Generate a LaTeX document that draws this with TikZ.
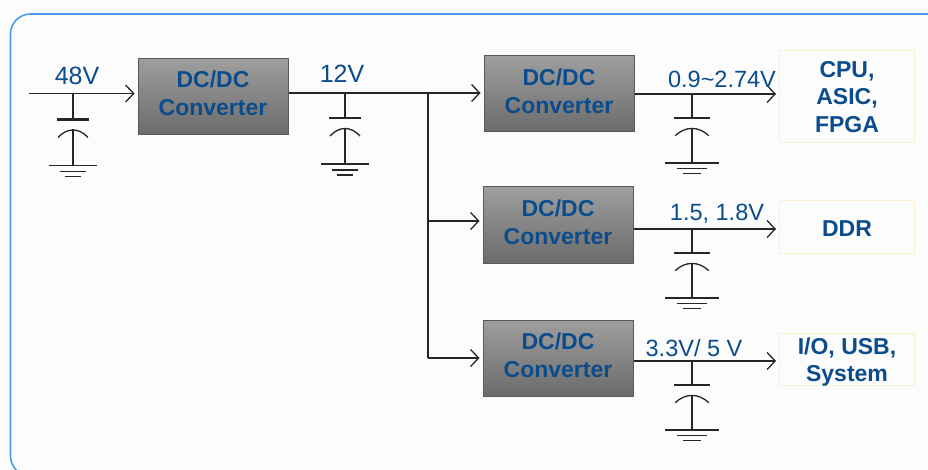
\documentclass[tikz,border=0pt]{standalone}
\usepackage{fontspec}
\setmainfont{Liberation Sans}
\usetikzlibrary{arrows.meta}
\definecolor{txtblue}{HTML}{0B4C8C}
\definecolor{framblue}{HTML}{4A9BF0}
\definecolor{loadline}{HTML}{FBF0C8}
% texte decale dans sa boite : marge haute, marge basse, texte
\newcommand{\boxtxt}[3]{\parbox[c]{130pt}{\centering\vspace*{#1}#3\par\vspace*{#2}}}
\tikzset{
    wire/.style={draw=black!85, line width=1.3pt},
    arrowed/.style={wire, -{Straight Barb[length=8pt,width=17pt,line width=1.3pt]}, shorten >=3pt},
    conv/.style={draw=black!65, line width=1pt, top color=black!38, bottom color=black!58,
        minimum width=150pt, minimum height=76pt, inner sep=0pt, align=center,
        text=txtblue, font=\fontsize{23}{28}\selectfont\bfseries},
    load/.style={draw=loadline, line width=1pt, fill=black!1, minimum width=135pt, inner sep=0pt,
        align=center, text=txtblue, font=\fontsize{23}{27.5}\selectfont\bfseries},
    volt/.style={text=txtblue, inner sep=0pt, font=\fontsize{23.5}{28}\selectfont},
    % condensateur et masse
    capgnd/.pic={
        \draw[wire] (0,0) -- (0,25);
        \draw[black!85, line width=2.4pt] (-16,25) -- (16,25);
        \draw[wire] (-15,43) .. controls (-6,33) and (6,33) .. (15,43);
        \draw[wire] (0,35) -- (0,71);
        \draw[wire] (-24,71) -- (24,71);
        \draw[wire] (-13,77) -- (13,77);
        \draw[wire] (-8,82) -- (8,82);
    }
}
\begin{document}
\begin{tikzpicture}[x=1pt, y=-1pt]
\useasboundingbox (0,0) rectangle (928,470);
\clip (0,0) rectangle (928,470);
\fill[black!1] (0,0) rectangle (928,470);
% Cadre
\draw[framblue, line width=1.6pt, rounded corners=20pt] (10.5,14) rectangle (960,476);
% Convertisseurs
\node[conv] (conv0) at (213,96.5) {\boxtxt{0pt}{6pt}{DC/DC\\Converter}};
\node[conv] (conv1) at (559,94) {\boxtxt{0pt}{6pt}{DC/DC\\Converter}};
\node[conv] (conv2) at (558,225) {\boxtxt{0pt}{6pt}{DC/DC\\Converter}};
\node[conv] (conv3) at (558,358) {\boxtxt{0pt}{6pt}{DC/DC\\Converter}};
% Charges
\node[load, minimum height=92pt] (cpu) at (847,97) {CPU,\\ASIC,\\FPGA};
\node[load, minimum height=52pt] (ddr) at (847,227) {\boxtxt{3pt}{0pt}{DDR}};
\node[load, minimum height=52pt] (io) at (847,359) {\boxtxt{3pt}{-3pt}{I/O, USB,\\System}};
% Points de liaison
\coordinate (in48) at (29,93.5);
\coordinate (bus) at (428,93);
\coordinate (tap2) at (428,221);
\coordinate (tap3) at (428,358);
% Liaisons
\draw[arrowed] (in48) -- (in48 -| conv0.west);
\draw[wire] (conv0.east |- bus) -- (bus);
\draw[arrowed] (bus) -- (bus -| conv1.west);
\draw[wire] (bus) -- (tap3);
\draw[arrowed] (tap2) -- (tap2 -| conv2.west);
\draw[arrowed] (tap3) -- (tap3 -| conv3.west);
\draw[arrowed] (conv1.east) -- (cpu.west |- conv1.east);
\draw[arrowed] (conv2.east |- 0,229) -- (ddr.west |- 0,229);
\draw[arrowed] (conv3.east |- 0,361) -- (io.west |- 0,361);
% Condensateurs
\foreach \cx/\cy/\sx/\sy in {73/94.5/1/1, 345/93/1/1, 692/94/1.12/0.97, 692/229/1.12/0.97, 692/361/1.12/0.97}
    \pic[xscale=\sx, yscale=\sy] at (\cx,\cy) {capgnd};
% Tensions
\node[volt, font=\fontsize{25}{28}\selectfont] (v48) at (77,76) {48V};
\node[volt, font=\fontsize{25}{28}\selectfont] (v12) at (342,74) {12V};
\node[volt] (vcpu) at (722,79) {0.9\textasciitilde2.74V};
\node[volt] (vddr) at (717,214) {1.5, 1.8V};
\node[volt] (vio) at (694,348) {3.3V/ 5 V};
\end{tikzpicture}
\end{document}
